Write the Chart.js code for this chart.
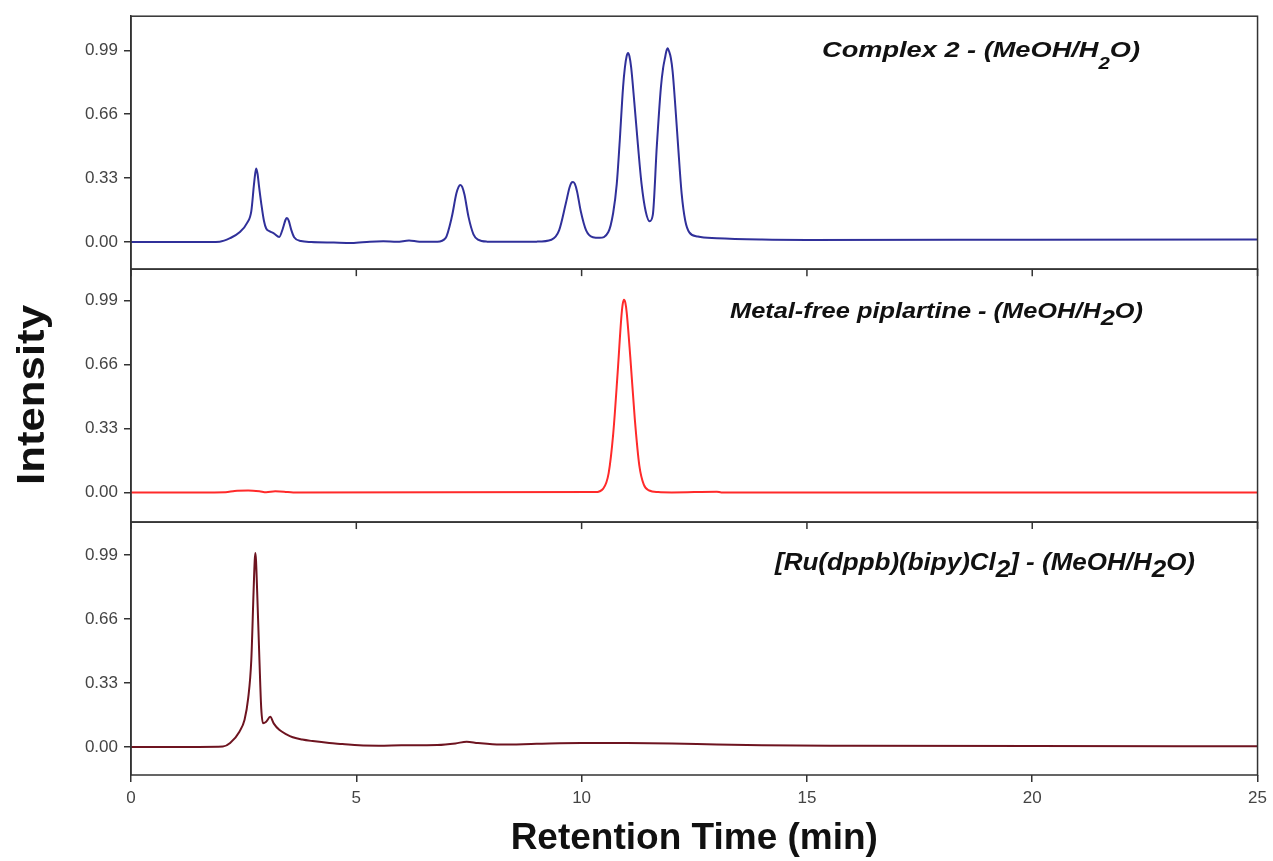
<!DOCTYPE html>
<html>
<head>
<meta charset="utf-8">
<script src="https://cdn.jsdelivr.net/npm/chart.js@4.4.1/dist/chart.umd.min.js"></script>
<style>
body { margin: 0; background: #fff; }
</style>
</head>
<body>
<canvas id="myChart" width="1273" height="861"></canvas>
<script>
var xTicks = [0, 5, 10, 15, 20, 25];
var yTicks = [0, 0.33, 0.66, 0.99];

// Complex 2 (top panel)
var complexTime = [0, 1.5, 1.97, 2.2, 2.41, 2.58, 2.67, 2.73, 2.76, 2.78, 2.81, 2.84, 2.89, 2.95, 3.0, 3.08, 3.17, 3.29, 3.37, 3.43, 3.46, 3.5, 3.56, 3.62, 3.77, 4.0, 4.5, 4.9, 5.3, 5.6, 5.9, 6.17, 6.4, 6.8,
    6.98, 7.12, 7.22, 7.27, 7.31, 7.35, 7.4, 7.49, 7.6, 7.7, 7.9, 8.5, 9.0, 9.33, 9.5, 9.65, 9.73, 9.77, 9.81, 9.85, 9.9, 9.98, 10.1, 10.25, 10.4,
    10.59, 10.7, 10.78, 10.84, 10.92, 10.96, 11.0, 11.03, 11.06, 11.1, 11.17, 11.25, 11.33, 11.42, 11.51, 11.58, 11.67, 11.76, 11.81, 11.85, 11.88, 11.91, 11.94, 11.98, 12.02, 12.08, 12.14, 12.22, 12.3, 12.39, 12.58,
    13.0, 14.0, 15.0, 20.0, 25.0];
var complexVal = [0, 0, 0.002, 0.02, 0.05, 0.1, 0.16, 0.3, 0.36, 0.38, 0.35, 0.29, 0.2, 0.11, 0.07, 0.055, 0.045, 0.026, 0.07, 0.115, 0.124, 0.11, 0.06, 0.025, 0.005, 0, -0.003, -0.005, 0.002, 0.004, 0.001, 0.008, 0.002, 0.002,
    0.02, 0.13, 0.25, 0.285, 0.295, 0.285, 0.245, 0.13, 0.04, 0.012, 0.002, 0.001, 0.002, 0.012, 0.06, 0.2, 0.28, 0.305, 0.31, 0.3, 0.26, 0.16, 0.06, 0.025, 0.022,
    0.05, 0.15, 0.3, 0.5, 0.8, 0.9, 0.96, 0.976, 0.96, 0.9, 0.72, 0.5, 0.3, 0.16, 0.107, 0.14, 0.5, 0.8, 0.9, 0.95, 0.985, 1.0, 0.985, 0.95, 0.88, 0.7, 0.5, 0.25, 0.11, 0.05, 0.028,
    0.02, 0.013, 0.011, 0.012, 0.013];

// Metal-free piplartine (middle panel)
var pipTime = [0, 1.5, 2.1, 2.3, 2.6, 2.85, 3.0, 3.2, 3.4, 3.6, 10.3, 10.48, 10.6, 10.7, 10.8, 10.88, 10.91, 10.94, 10.97, 11.0, 11.08, 11.18, 11.28, 11.38, 11.5, 11.7, 12.0, 13.0, 13.1, 25.0];
var pipVal = [0, 0, 0.001, 0.008, 0.01, 0.006, 0.001, 0.006, 0.004, 0, 0.002, 0.02, 0.1, 0.3, 0.62, 0.9, 0.97, 0.995, 0.98, 0.93, 0.7, 0.38, 0.14, 0.04, 0.01, 0.002, 0, 0.004, 0, 0];

// [Ru(dppb)(bipy)Cl2] (bottom panel)
var ruTime = [0, 1.5, 2.04, 2.2, 2.41, 2.52, 2.6, 2.67, 2.72, 2.745, 2.76, 2.775, 2.8, 2.85, 2.89, 2.93, 3.0, 3.09, 3.17, 3.29, 3.45, 3.59, 3.8, 4.03, 4.4, 4.69, 5.06, 5.5, 6.0, 6.8,
    7.2, 7.45, 7.7, 8.2, 9.0, 10.0, 11.0, 12.0, 13.0, 14.0, 16.0, 20.0, 25.0];
var ruVal = [0, 0, 0.002, 0.02, 0.08, 0.14, 0.25, 0.45, 0.8, 0.96, 1.0, 0.96, 0.8, 0.45, 0.2, 0.122, 0.13, 0.155, 0.12, 0.088, 0.065, 0.05, 0.038, 0.03, 0.02, 0.015, 0.008, 0.006, 0.008, 0.01,
    0.018, 0.027, 0.02, 0.012, 0.016, 0.02, 0.02, 0.018, 0.012, 0.008, 0.006, 0.004, 0.003];

function toPoints(ts, vs) {
    return ts.map(function (t, i) { return { x: t, y: vs[i] }; });
}

var FONT = '"Liberation Sans", Arial, sans-serif';
Chart.defaults.font.family = FONT;

function yAxis(weight, min, max) {
    return {
        type: 'linear',
        position: 'left',
        stack: 'panels',
        weight: weight,
        min: min,
        max: max,
        afterBuildTicks: function (s) { s.ticks = yTicks.map(function (v) { return { value: v }; }); },
        afterFit: function (s) { s.width = 131; },
        ticks: {
            color: '#444',
            font: { size: 17 },
            padding: 6,
            callback: function (v) { return Number(v).toFixed(2); }
        },
        grid: { drawOnChartArea: false, tickLength: 7, color: '#333', lineWidth: 1.5 },
        border: { color: '#333', width: 1.5 }
    };
}

function drawLabel(ctx, parts, x, y, size, targetW) {
    var w = 0;
    parts.forEach(function (p) {
        ctx.font = 'italic bold ' + (size * (p.s || 1)) + 'px ' + FONT;
        w += ctx.measureText(p.t).width;
    });
    ctx.save();
    ctx.translate(x, y);
    ctx.scale(targetW / w, 1);
    ctx.fillStyle = '#111';
    ctx.textAlign = 'left';
    ctx.textBaseline = 'alphabetic';
    var cx = 0;
    parts.forEach(function (p) {
        ctx.font = 'italic bold ' + (size * (p.s || 1)) + 'px ' + FONT;
        ctx.fillText(p.t, cx, p.dy || 0);
        cx += ctx.measureText(p.t).width;
    });
    ctx.restore();
}

var framePlugin = {
    id: 'frame',
    afterDraw: function (chart) {
        var ctx = chart.ctx, a = chart.chartArea, xs = chart.scales.x;
        ctx.save();
        ctx.strokeStyle = '#333';
        ctx.lineWidth = 1.5;
        ['y1', 'y2', 'y3'].forEach(function (id) {
            var s = chart.scales[id];
            ctx.strokeRect(a.left, s.top, a.right - a.left, s.bottom - s.top);
            if (id !== 'y3') {
                xTicks.forEach(function (t) {
                    var px = xs.getPixelForValue(t);
                    ctx.beginPath();
                    ctx.moveTo(px, s.bottom);
                    ctx.lineTo(px, s.bottom + 7);
                    ctx.stroke();
                });
            }
        });

        drawLabel(ctx, [{ t: 'Complex 2 - (MeOH/H' }, { t: '2', s: 0.75, dy: 12 }, { t: 'O)' }], 822, 57, 22, 318);
        drawLabel(ctx, [{ t: 'Metal-free piplartine - (MeOH/H' }, { t: '2', dy: 7 }, { t: 'O)' }], 730, 318, 22, 413);
        drawLabel(ctx, [{ t: '[Ru(dppb)(bipy)Cl' }, { t: '2', dy: 7 }, { t: '] - (MeOH/H' }, { t: '2', dy: 7 }, { t: 'O)' }], 775, 570, 24, 420);

        // y axis title
        ctx.save();
        ctx.translate(44, 395);
        ctx.rotate(-Math.PI / 2);
        ctx.font = 'bold 38px ' + FONT;
        var tw = ctx.measureText('Intensity').width;
        ctx.scale(180 / tw, 1);
        ctx.fillStyle = '#111';
        ctx.textAlign = 'center';
        ctx.textBaseline = 'alphabetic';
        ctx.fillText('Intensity', 0, 0);
        ctx.restore();
        ctx.restore();
    }
};

var ctx = document.getElementById('myChart').getContext('2d');
var myChart = new Chart(ctx, {
    type: 'line',
    data: {
        datasets: [{
            label: 'Complex 2',
            data: toPoints(complexTime, complexVal),
            yAxisID: 'y1',
            borderColor: '#30309a',
            borderWidth: 2
        }, {
            label: 'Metal-free piplartine',
            data: toPoints(pipTime, pipVal),
            yAxisID: 'y2',
            borderColor: '#ff2a2a',
            borderWidth: 2
        }, {
            label: '[Ru(dppb)(bipy)Cl2]',
            data: toPoints(ruTime, ruVal),
            yAxisID: 'y3',
            borderColor: '#6e1420',
            borderWidth: 2
        }]
    },
    options: {
        responsive: false,
        animation: false,
        elements: { point: { radius: 0 }, line: { cubicInterpolationMode: 'monotone' } },
        layout: { padding: { top: 15, right: 11, bottom: 0, left: 0 } },
        plugins: { legend: { display: false }, tooltip: { enabled: false } },
        scales: {
            x: {
                type: 'linear',
                min: 0,
                max: 25,
                afterBuildTicks: function (s) { s.ticks = xTicks.map(function (v) { return { value: v }; }); },
                afterFit: function (s) { s.height = 86; },
                ticks: { color: '#444', font: { size: 17 }, padding: 6 },
                grid: { drawOnChartArea: false, tickLength: 7, color: '#333', lineWidth: 1.5 },
                border: { display: false },
                title: {
                    display: true,
                    text: 'Retention Time (min)',
                    color: '#111',
                    font: { size: 37, weight: 'bold' },
                    padding: { top: 0, bottom: 0 }
                }
            },
            y3: yAxis(1, -0.145, 1.16),
            y2: yAxis(2, -0.153, 1.153),
            y1: yAxis(3, -0.14, 1.166)
        }
    },
    plugins: [framePlugin]
});
</script>
</body>
</html>
